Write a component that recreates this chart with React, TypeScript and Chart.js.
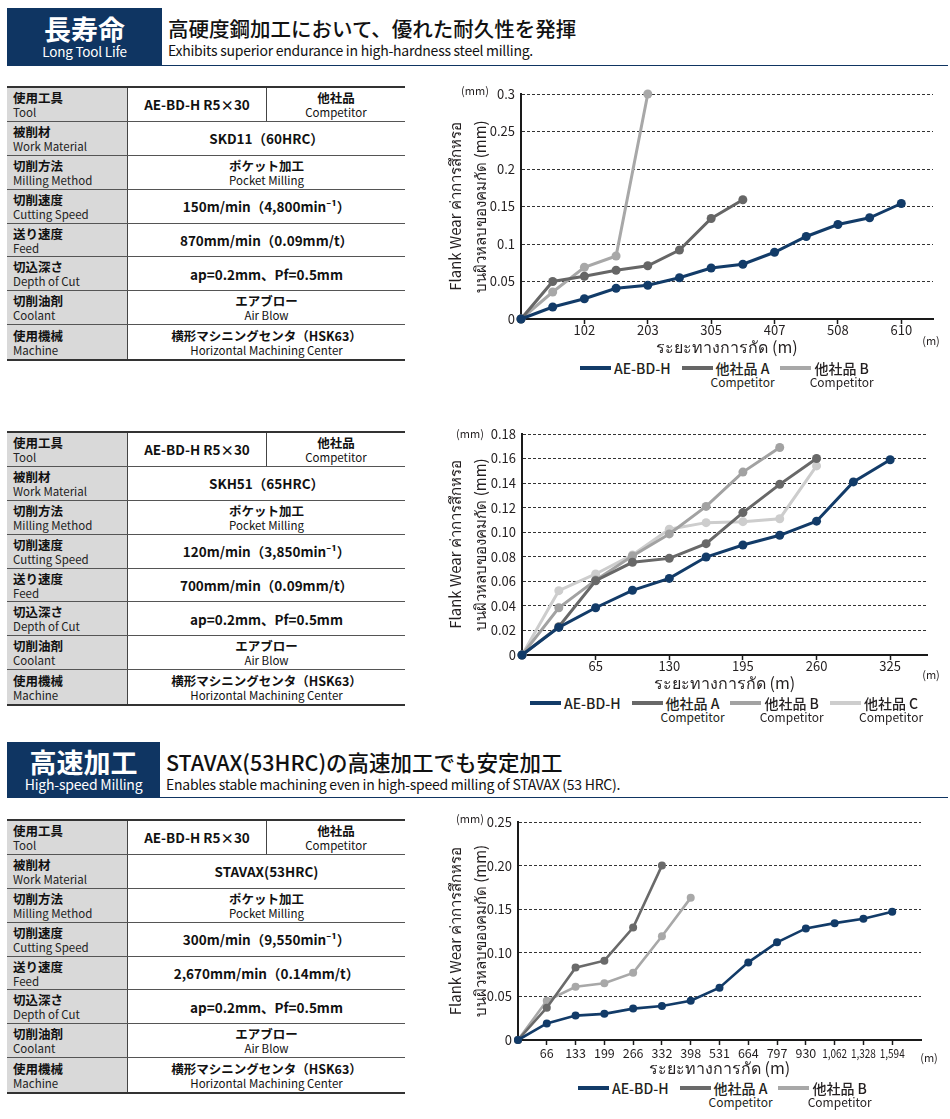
import React, { useEffect, useRef } from 'react';
import { Chart, registerables } from 'chart.js';

Chart.register(...registerables);

const FONT = '"Noto Sans CJK JP", "Noto Sans", sans-serif';
const NAVY = '#123b68';
const HEADER_NAVY = '#0f3562';
const TEXT = '#231f20';

// ---------- Chart 1 : SKD11 (60HRC) ----------
const C1_X_LABELS = ['', '', '102', '', '203', '', '305', '', '407', '', '508', '', '610', ''];
const C1_Y_LABELS = ['0', '0.05', '0.1', '0.15', '0.2', '0.25', '0.3'];
const C1_AE_BD_H = [0, 0.016, 0.027, 0.041, 0.045, 0.055, 0.068, 0.073, 0.089, 0.11, 0.126, 0.135, 0.154];
const C1_COMP_A = [0, 0.05, 0.057, 0.065, 0.071, 0.092, 0.134, 0.159];
const C1_COMP_B = [0, 0.036, 0.069, 0.084, 0.3];

// ---------- Chart 2 : SKH51 (65HRC) ----------
const C2_X_LABELS = ['', '', '65', '', '130', '', '195', '', '260', '', '325', ''];
const C2_Y_LABELS = ['0', '0.02', '0.04', '0.06', '0.08', '0.10', '0.12', '0.14', '0.16', '0.18'];
const C2_AE_BD_H = [0, 0.0225, 0.0385, 0.0527, 0.0624, 0.0798, 0.0896, 0.0975, 0.109, 0.141, 0.159];
const C2_COMP_A = [0, 0.023, 0.0605, 0.0755, 0.0787, 0.0907, 0.116, 0.139, 0.16];
const C2_COMP_B = [0, 0.0385, 0.061, 0.0806, 0.0986, 0.121, 0.149, 0.169];
const C2_COMP_C = [0, 0.0524, 0.066, 0.0815, 0.1024, 0.1078, 0.1086, 0.111, 0.154];

// ---------- Chart 3 : STAVAX (53HRC) ----------
const C3_X_LABELS = ['', '66', '133', '199', '266', '332', '398', '531', '664', '797', '930', '1,062', '1,328', '1,594', ''];
const C3_Y_LABELS = ['0', '0.05', '0.10', '0.15', '0.20', '0.25'];
const C3_AE_BD_H = [0, 0.019, 0.028, 0.03, 0.036, 0.039, 0.045, 0.06, 0.089, 0.112, 0.128, 0.134, 0.139, 0.147];
const C3_COMP_A = [0, 0.037, 0.083, 0.091, 0.129, 0.2];
const C3_COMP_B = [0, 0.045, 0.061, 0.065, 0.077, 0.119, 0.163];

// ---------- Texts ----------
const Y_TITLE = ['Flank Wear ค่าการสึกหรอ', 'บนผิวหลบของคมกัด (mm)'];
const X_TITLE = 'ระยะทางการกัด (m)';
const NAME_AE = 'AE-BD-H';
const NAME_A = '他社品 A';
const NAME_B = '他社品 B';
const NAME_C = '他社品 C';
const COMPETITOR = 'Competitor';

const ROW_JP = ['使用工具', '被削材', '切削方法', '切削速度', '送り速度', '切込深さ', '切削油剤', '使用機械'];
const ROW_EN = ['Tool', 'Work Material', 'Milling Method', 'Cutting Speed', 'Feed', 'Depth of Cut', 'Coolant', 'Machine'];
const TOOL_NAME = 'AE-BD-H R5×30';
const COMP_JP = '他社品';

const T1_VALUES = [
  ['SKD11（60HRC）', ''],
  ['ポケット加工', 'Pocket Milling'],
  ['150m/min（4,800min⁻¹）', ''],
  ['870mm/min（0.09mm/t）', ''],
  ['ap=0.2mm、Pf=0.5mm', ''],
  ['エアブロー', 'Air Blow'],
  ['横形マシニングセンタ（HSK63）', 'Horizontal Machining Center'],
];
const T2_VALUES = [
  ['SKH51（65HRC）', ''],
  ['ポケット加工', 'Pocket Milling'],
  ['120m/min（3,850min⁻¹）', ''],
  ['700mm/min（0.09mm/t）', ''],
  ['ap=0.2mm、Pf=0.5mm', ''],
  ['エアブロー', 'Air Blow'],
  ['横形マシニングセンタ（HSK63）', 'Horizontal Machining Center'],
];
const T3_VALUES = [
  ['STAVAX(53HRC)', ''],
  ['ポケット加工', 'Pocket Milling'],
  ['300m/min（9,550min⁻¹）', ''],
  ['2,670mm/min（0.14mm/t）', ''],
  ['ap=0.2mm、Pf=0.5mm', ''],
  ['エアブロー', 'Air Blow'],
  ['横形マシニングセンタ（HSK63）', 'Horizontal Machining Center'],
];

// Draws x tick labels horizontally condensed (for crowded axes).
const condensedTicks = {
  id: 'condensedTicks',
  afterDraw(chart: any, _args: any, opts: any) {
    if (!opts || !opts.enabled) return;
    const xs = chart.scales.x;
    const ctx = chart.ctx;
    ctx.save();
    ctx.font = `${opts.size}px ${FONT}`;
    ctx.fillStyle = TEXT;
    ctx.textAlign = 'center';
    ctx.textBaseline = 'middle';
    xs.ticks.forEach((t: any, i: number) => {
      const label = chart.data.labels[t.value];
      if (!label) return;
      ctx.fillText(label, xs.getPixelForTick(i), xs.top + opts.offset, opts.maxWidth);
    });
    ctx.restore();
  },
};

function buildConfig(spec: any) {
  return {
    type: 'line',
    plugins: [condensedTicks],
    data: {
      labels: spec.xLabels,
      datasets: spec.series.map((s: any) => ({
        label: s.name,
        data: s.data,
        borderColor: s.color,
        backgroundColor: s.color,
        pointBackgroundColor: s.color,
        pointBorderColor: s.color,
        borderWidth: spec.lineWidth,
        pointRadius: spec.pointRadius,
        pointBorderWidth: 0,
        tension: 0,
        clip: false,
      })),
    },
    options: {
      responsive: false,
      animation: false,
      events: [],
      layout: { padding: { left: 0, top: spec.padTop, right: spec.padRight, bottom: 0 } },
      plugins: {
        legend: { display: false },
        tooltip: { enabled: false },
        condensedTicks: { enabled: !!spec.condensed, size: 12.5, maxWidth: 25, offset: 13 },
      },
      scales: {
        x: {
          type: 'category',
          offset: false,
          grid: {
            display: true,
            drawOnChartArea: false,
            drawTicks: true,
            tickLength: 5,
            tickWidth: 1.5,
            tickColor: (c: any) => (spec.xLabels[c.index] ? '#1a1a1a' : 'rgba(0,0,0,0)'),
          },
          border: { display: true, color: '#1a1a1a', width: 2 },
          ticks: {
            display: !spec.condensed,
            autoSkip: false,
            maxRotation: 0,
            minRotation: 0,
            padding: 0,
            color: TEXT,
            font: { family: FONT, size: 13, lineHeight: 1 },
          },
          title: {
            display: true,
            text: X_TITLE,
            color: TEXT,
            font: { family: FONT, size: 16, lineHeight: 1.2 },
            padding: 0,
          },
          afterFit: (scale: any) => {
            scale.height = 38;
          },
        },
        y: {
          type: 'linear',
          min: 0,
          max: spec.yMax,
          ticks: {
            stepSize: spec.yStep,
            padding: 6,
            color: TEXT,
            font: { family: FONT, size: 13 },
            callback: (_v: any, i: number) => spec.yLabels[i],
          },
          grid: { color: '#333333', lineWidth: 1, drawTicks: false },
          border: { display: true, color: '#1a1a1a', width: 2, dash: [3, 2] },
          title: {
            display: true,
            text: Y_TITLE,
            color: TEXT,
            font: { family: FONT, size: 15, lineHeight: 25 / 15 },
            padding: { top: 12.5, bottom: 0 },
          },
          afterFit: (scale: any) => {
            scale.width = spec.yWidth;
          },
        },
      },
    },
  };
}

function LineChart({ spec }: { spec: any }) {
  const ref = useRef<HTMLCanvasElement | null>(null);
  useEffect(() => {
    const chart = new Chart(ref.current as HTMLCanvasElement, buildConfig(spec) as any);
    return () => chart.destroy();
  }, []);
  return (
    <canvas
      ref={ref}
      width={spec.width}
      height={spec.height}
      style={{ position: 'absolute', left: spec.left, top: spec.top, width: spec.width, height: spec.height }}
    />
  );
}

function UnitLabel({ x, y, text }: { x: number; y: number; text: string }) {
  return (
    <div
      style={{
        position: 'absolute',
        left: x,
        top: y,
        transform: 'translate(-50%, -50%)',
        fontSize: 11,
        lineHeight: '12px',
        color: TEXT,
        whiteSpace: 'nowrap',
      }}
    >
      {text}
    </div>
  );
}

function Legend({ left, top, items }: { left: number; top: number; items: any[] }) {
  return (
    <div style={{ position: 'absolute', left, top, display: 'flex', alignItems: 'center', gap: 11, height: 20 }}>
      {items.map((it, i) => (
        <div key={i} style={{ display: 'flex', alignItems: 'center' }}>
          <span style={{ display: 'inline-block', width: 31, height: 4, background: it.color, marginRight: 3 }} />
          <span
            style={{
              position: 'relative',
              fontSize: 14,
              fontWeight: 500,
              lineHeight: '20px',
              whiteSpace: 'nowrap',
              color: TEXT,
            }}
          >
            {it.name}
            {it.sub ? (
              <span
                style={{
                  position: 'absolute',
                  left: '50%',
                  top: 17,
                  transform: 'translateX(-50%)',
                  fontSize: 12,
                  fontWeight: 400,
                  lineHeight: '14px',
                  whiteSpace: 'nowrap',
                }}
              >
                {it.sub}
              </span>
            ) : null}
          </span>
        </div>
      ))}
    </div>
  );
}

function SectionHeader(props: any) {
  const { top, height, boxWidth, jp, en, title, subtitle, enSize, titleSize } = props;
  return (
    <>
      <div
        style={{
          position: 'absolute',
          left: 7,
          top,
          width: boxWidth,
          height,
          background: HEADER_NAVY,
          color: '#fff',
          display: 'flex',
          flexDirection: 'column',
          alignItems: 'center',
          justifyContent: 'center',
        }}
      >
        <div style={{ fontSize: 27, fontWeight: 700, lineHeight: '28px' }}>{jp}</div>
        <div style={{ fontSize: enSize, lineHeight: '16px', letterSpacing: -0.2 }}>{en}</div>
      </div>
      <div
        style={{
          position: 'absolute',
          left: 7 + boxWidth + 6,
          top: top + 6,
          fontSize: titleSize,
          fontWeight: 500,
          lineHeight: '28px',
          color: '#111',
          whiteSpace: 'nowrap',
        }}
      >
        {title}
      </div>
      <div
        style={{
          position: 'absolute',
          left: 7 + boxWidth + 6,
          top: top + 33,
          fontSize: 14,
          lineHeight: '18px',
          color: '#111',
          whiteSpace: 'nowrap',
          letterSpacing: -0.25,
        }}
      >
        {subtitle}
      </div>
      <div
        style={{
          position: 'absolute',
          left: 7 + boxWidth,
          top: top + height - 1.5,
          width: 948 - 7 - boxWidth,
          height: 1.5,
          background: HEADER_NAVY,
        }}
      />
    </>
  );
}

function ValueCell({ main, sub, style }: { main: string; sub: string; style?: any }) {
  return (
    <div
      style={{
        display: 'flex',
        flexDirection: 'column',
        alignItems: 'center',
        justifyContent: 'center',
        color: '#111',
        ...style,
      }}
    >
      {sub ? (
        <>
          <div style={{ fontSize: 12.5, fontWeight: 700, lineHeight: '15px' }}>{main}</div>
          <div style={{ fontSize: 11.5, lineHeight: '14px' }}>{sub}</div>
        </>
      ) : (
        <div style={{ fontSize: 13.5, fontWeight: 700, lineHeight: '16px', whiteSpace: 'nowrap' }}>{main}</div>
      )}
    </div>
  );
}

function SpecTable({ top, values }: { top: number; values: string[][] }) {
  const rowH = 33.9;
  return (
    <div
      style={{
        position: 'absolute',
        left: 7,
        top,
        width: 398,
        borderTop: '2px solid #333',
        borderBottom: '2px solid #333',
      }}
    >
      {ROW_JP.map((jp, i) => (
        <div
          key={i}
          style={{
            display: 'flex',
            height: rowH,
            boxSizing: 'border-box',
            borderBottom: i < ROW_JP.length - 1 ? '1px solid #555' : 'none',
          }}
        >
          <div
            style={{
              width: 121,
              boxSizing: 'border-box',
              background: '#d9d9d9',
              borderRight: '1px solid #444',
              paddingLeft: 6,
              display: 'flex',
              flexDirection: 'column',
              justifyContent: 'center',
            }}
          >
            <div style={{ fontSize: 12.5, fontWeight: 700, lineHeight: '15px', color: '#111' }}>{jp}</div>
            <div style={{ fontSize: 11.5, lineHeight: '14px', color: '#222' }}>{ROW_EN[i]}</div>
          </div>
          {i === 0 ? (
            <>
              <ValueCell main={TOOL_NAME} sub="" style={{ width: 138 }} />
              <ValueCell main={COMP_JP} sub={COMPETITOR} style={{ flex: 1, borderLeft: '1px solid #444' }} />
            </>
          ) : (
            <ValueCell main={values[i - 1][0]} sub={values[i - 1][1]} style={{ flex: 1 }} />
          )}
        </div>
      ))}
    </div>
  );
}

const CHART1 = {
  left: 430, top: 80, width: 520, height: 277,
  yWidth: 91, padTop: 14, padRight: 17,
  xLabels: C1_X_LABELS, yLabels: C1_Y_LABELS, yMax: 0.3, yStep: 0.05,
  condensed: false, lineWidth: 3, pointRadius: 4.5,
  series: [
    { name: NAME_AE, data: C1_AE_BD_H, color: NAVY },
    { name: NAME_A, data: C1_COMP_A, color: '#666666' },
    { name: NAME_B, data: C1_COMP_B, color: '#a8a8a8' },
  ],
};

const CHART2 = {
  left: 430, top: 420, width: 520, height: 273,
  yWidth: 92, padTop: 14, padRight: 23,
  xLabels: C2_X_LABELS, yLabels: C2_Y_LABELS, yMax: 0.18, yStep: 0.02,
  condensed: false, lineWidth: 3, pointRadius: 4.5,
  series: [
    { name: NAME_AE, data: C2_AE_BD_H, color: NAVY },
    { name: NAME_A, data: C2_COMP_A, color: '#686868' },
    { name: NAME_B, data: C2_COMP_B, color: '#a2a2a2' },
    { name: NAME_C, data: C2_COMP_C, color: '#cdcdcd' },
  ],
};

const CHART3 = {
  left: 430, top: 808, width: 520, height: 270,
  yWidth: 88, padTop: 14, padRight: 29,
  xLabels: C3_X_LABELS, yLabels: C3_Y_LABELS, yMax: 0.25, yStep: 0.05,
  condensed: true, lineWidth: 2.6, pointRadius: 4,
  series: [
    { name: NAME_AE, data: C3_AE_BD_H, color: NAVY },
    { name: NAME_A, data: C3_COMP_A, color: '#6a6a6a' },
    { name: NAME_B, data: C3_COMP_B, color: '#a8a8a8' },
  ],
};

function legendItems(spec: any) {
  return spec.series.map((s: any, i: number) => ({ name: s.name, color: s.color, sub: i === 0 ? '' : COMPETITOR }));
}

export default function App() {
  return (
    <div
      style={{
        position: 'absolute',
        left: 0,
        top: 0,
        width: 950,
        height: 1119,
        background: '#fff',
        overflow: 'hidden',
        fontFamily: FONT,
      }}
    >
      <SectionHeader
        top={8}
        height={58}
        boxWidth={155}
        jp="長寿命"
        en="Long Tool Life"
        enSize={13.5}
        titleSize={20.5}
        title="高硬度鋼加工において、優れた耐久性を発揮"
        subtitle="Exhibits superior endurance in high-hardness steel milling."
      />
      <SpecTable top={86} values={T1_VALUES} />
      <LineChart spec={CHART1} />
      <UnitLabel x={475} y={90} text="(mm)" />
      <UnitLabel x={931} y={340} text="(m)" />
      <Legend left={580} top={358} items={legendItems(CHART1)} />

      <SpecTable top={431} values={T2_VALUES} />
      <LineChart spec={CHART2} />
      <UnitLabel x={470} y={433} text="(mm)" />
      <UnitLabel x={931} y={674} text="(m)" />
      <Legend left={530} top={693} items={legendItems(CHART2)} />

      <SectionHeader
        top={742}
        height={56}
        boxWidth={153}
        jp="高速加工"
        en="High-speed Milling"
        enSize={14}
        titleSize={21.5}
        title="STAVAX(53HRC)の高速加工でも安定加工"
        subtitle="Enables stable machining even in high-speed milling of STAVAX (53 HRC)."
      />
      <SpecTable top={819} values={T3_VALUES} />
      <LineChart spec={CHART3} />
      <UnitLabel x={470} y={818} text="(mm)" />
      <UnitLabel x={929} y={1057} text="(m)" />
      <Legend left={578} top={1078} items={legendItems(CHART3)} />
    </div>
  );
}
